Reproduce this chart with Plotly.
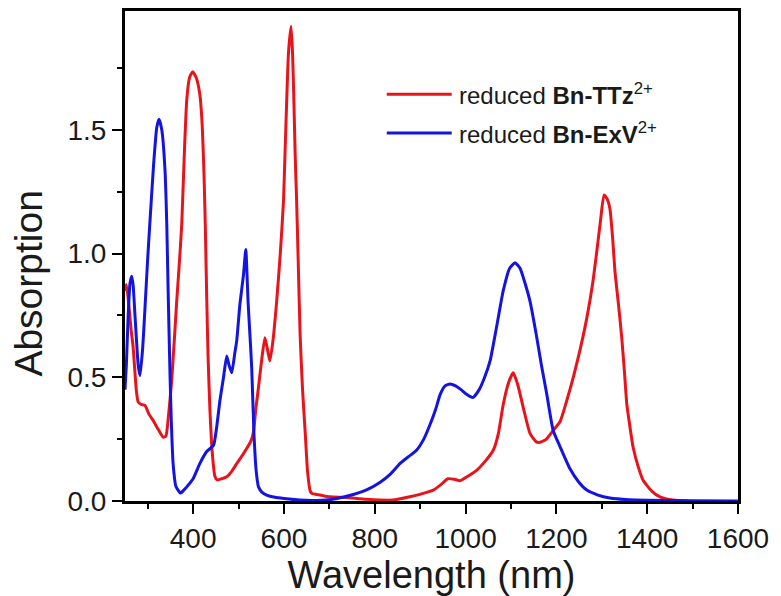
import plotly.graph_objects as go

# Reduced Bn-TTz2+ absorption spectrum (wavelength in nm, absorbance)
ttz_wl = [250, 253, 258, 263, 268, 275, 279, 286, 294, 303, 312, 323, 334, 340, 345, 353,
          364, 370, 375, 381, 386, 392, 399, 407, 415, 420, 424, 427, 430, 433, 437, 442, 448,
          453, 463, 474, 485, 496, 507, 518, 528, 533, 538, 544, 551, 558, 563, 569, 576,
          584, 592, 599, 602.5, 606, 610, 615.8, 619, 622, 624.6, 628, 632, 635.6, 641, 647,
          652, 658, 662, 680, 694, 710, 738, 782, 840, 877, 905, 929, 945, 961, 975, 988,
          1005, 1025, 1043, 1061, 1072, 1083, 1095, 1105, 1115, 1127, 1142, 1155, 1164, 1178,
          1193, 1208, 1222, 1237, 1252, 1267, 1280, 1289, 1297, 1305, 1312, 1318, 1324, 1329,
          1337, 1344, 1350, 1355, 1362, 1369, 1380, 1391, 1410, 1428, 1457, 1490]
ttz_abs = [0.85, 0.875, 0.80, 0.70, 0.62, 0.446, 0.40, 0.39, 0.386, 0.35, 0.325, 0.29, 0.258, 0.262, 0.33, 0.49,
           0.81, 0.97, 1.12, 1.42, 1.62, 1.71, 1.735, 1.71, 1.64, 1.52, 1.32, 1.10, 0.82, 0.58, 0.37, 0.20, 0.10,
           0.085, 0.09, 0.098, 0.12, 0.151, 0.18, 0.212, 0.245, 0.28, 0.37, 0.46, 0.57, 0.66, 0.62, 0.566, 0.65,
           0.807, 1.0, 1.21, 1.41, 1.61, 1.81, 1.918, 1.81, 1.61, 1.41, 1.21, 0.93, 0.675, 0.45, 0.273,
           0.12, 0.04, 0.03, 0.024, 0.018, 0.016, 0.014, 0.007, 0.004, 0.017, 0.03, 0.044, 0.065, 0.09, 0.088, 0.082,
           0.10, 0.125, 0.16, 0.205, 0.27, 0.39, 0.48, 0.518, 0.47, 0.378, 0.273, 0.24, 0.237, 0.25,
           0.285, 0.32, 0.40, 0.498, 0.61, 0.739, 0.88, 1.008, 1.13, 1.237, 1.22, 1.18, 1.06, 0.928,
           0.79, 0.659, 0.52, 0.394, 0.30, 0.217, 0.14, 0.084, 0.04, 0.017, 0.004, 0.0]

# Reduced Bn-ExV2+ absorption spectrum
exv_wl = [250, 253, 257, 261, 265, 268, 272, 279, 283, 289, 294, 300, 305, 313, 320, 325,
          331, 338, 342, 345, 349, 352, 356, 362, 372, 380, 386, 400, 415, 430, 445, 452,
          459, 467, 474, 479, 485, 492, 496, 503, 511, 516, 521, 525, 529, 534, 539, 544,
          552, 562, 580, 600, 634, 660, 700, 740, 782, 812, 835, 856, 875, 892, 908, 922,
          934, 944, 955, 966, 978, 990, 1003, 1016, 1030, 1042, 1054, 1068, 1083, 1097, 1109, 1120,
          1131, 1142, 1155, 1167, 1179, 1193, 1208, 1230, 1250, 1267, 1290, 1318, 1360, 1400, 1500, 1600]
exv_abs = [0.45, 0.55, 0.75, 0.88, 0.908, 0.87, 0.75, 0.55, 0.506, 0.62, 0.78, 0.98, 1.13, 1.36, 1.51, 1.543,
           1.50, 1.34, 1.12, 0.85, 0.52, 0.32, 0.15, 0.06, 0.032, 0.045, 0.057, 0.09, 0.152, 0.20, 0.225, 0.30,
           0.405, 0.50, 0.586, 0.55, 0.518, 0.60, 0.647, 0.794, 0.915, 1.016, 0.807, 0.675, 0.54, 0.273, 0.12, 0.057,
           0.035, 0.024, 0.015, 0.01, 0.004, 0.002, 0.005, 0.02, 0.045, 0.076, 0.11, 0.152, 0.18, 0.205, 0.25, 0.31,
           0.37, 0.43, 0.465, 0.473, 0.465, 0.45, 0.43, 0.418, 0.45, 0.50, 0.566, 0.70, 0.85, 0.94, 0.963, 0.94,
           0.88, 0.807, 0.68, 0.55, 0.43, 0.285, 0.22, 0.13, 0.075, 0.044, 0.025, 0.012, 0.005, 0.003, 0.001, 0.0]

RED = "#e8141b"
BLUE = "#1414e0"
FONT = "Arial, Liberation Sans, sans-serif"
INK = "#1a1a1a"

fig = go.Figure()
fig.add_trace(go.Scatter(x=ttz_wl, y=ttz_abs, mode="lines",
                         line=dict(color=RED, width=3, shape="spline", smoothing=0.5),
                         name="reduced Bn-TTz2+", showlegend=False))
fig.add_trace(go.Scatter(x=exv_wl, y=exv_abs, mode="lines",
                         line=dict(color=BLUE, width=3, shape="spline", smoothing=0.5),
                         name="reduced Bn-ExV2+", showlegend=False))

# Legend keys drawn as short line segments with rich-text labels
legend_items = [("reduced <b>Bn-TTz</b><sup>2+</sup>", RED, 0.830),
                ("reduced <b>Bn-ExV</b><sup>2+</sup>", BLUE, 0.751)]
for label, color, ypos in legend_items:
    fig.add_shape(type="line", xref="paper", yref="paper", x0=0.427, x1=0.533, y0=ypos, y1=ypos,
                  line=dict(color=color, width=3))
    fig.add_annotation(xref="paper", yref="paper", x=0.541, y=ypos, text=label, showarrow=False,
                       xanchor="left", yanchor="middle", font=dict(family=FONT, size=24, color=INK))

# Vertical axis title, centred slightly below the middle of the plot area
fig.add_annotation(xref="paper", yref="paper", x=-0.158, y=0.444, text="Absorption", textangle=-90,
                   showarrow=False, xanchor="center", yanchor="middle",
                   font=dict(family=FONT, size=39, color=INK))

axis_common = dict(showline=True, linewidth=3, linecolor="black", mirror=True, showgrid=False,
                   zeroline=False, ticks="outside", ticklen=10, tickwidth=2, tickcolor="black",
                   tickfont=dict(family=FONT, size=28, color=INK))

fig.update_layout(
    width=781, height=596,
    margin=dict(l=125, r=43, t=8, b=95),
    plot_bgcolor="white", paper_bgcolor="white",
    xaxis=dict(range=[250, 1600], tick0=0, dtick=200,
               minor=dict(ticks="outside", ticklen=5, tickwidth=2, tickcolor="black", tick0=0, dtick=100),
               title=dict(text="Wavelength (nm)", font=dict(family=FONT, size=38, color=INK), standoff=6),
               **axis_common),
    yaxis=dict(range=[0, 1.98], tick0=0, dtick=0.5, tickformat=".1f",
               minor=dict(ticks="outside", ticklen=5, tickwidth=2, tickcolor="black", tick0=0, dtick=0.25),
               **axis_common),
)

fig.write_html("out.html")
